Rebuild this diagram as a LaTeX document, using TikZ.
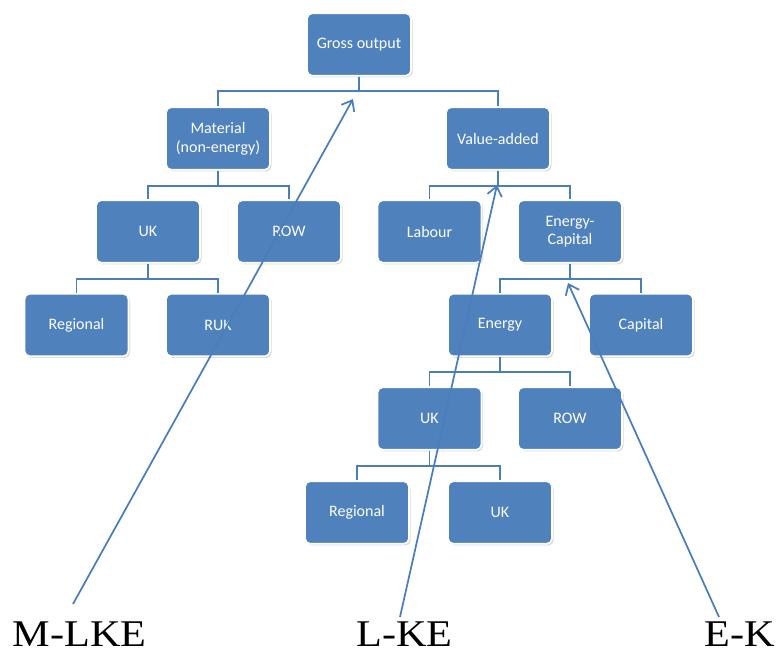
\documentclass[tikz,border=0pt]{standalone}
\usepackage{fontspec}
\setmainfont{Carlito}
\newfontfamily\tagfont{Liberation Serif}
\usetikzlibrary{shadows,arrows.meta}
\definecolor{boxblue}{HTML}{4F81BD}
\definecolor{lineblue}{HTML}{4A7EBB}
\tikzset{
  treebox/.style={rectangle, rounded corners=4pt, fill=boxblue, draw=white,
    line width=1.3pt, minimum width=78pt, minimum height=47pt, inner sep=2pt,
    text=white, align=center, font=\fontsize{12}{14}\selectfont,
    drop shadow={shadow xshift=1.2pt, shadow yshift=-1.2pt, opacity=0.3}},
  branch/.style={draw=lineblue, line width=1.3pt},
  pointer/.style={draw=lineblue, line width=1.3pt,
    -{Straight Barb[length=7pt,width=11pt]}},
  tag/.style={font=\tagfont\fontsize{28.3}{30}\selectfont, inner sep=0pt}
}
\begin{document}
\begin{tikzpicture}[x=0.75pt, y=-0.75pt]
      \useasboundingbox (0,0) rectangle (778,654);
      % tree of boxes
      \node[treebox] (gross) at (359,44.5) {Gross output};
      \node[treebox] (material) at (218,138.5) {Material\\(non-energy)};
      \node[treebox] (valueadded) at (498,138.5) {Value-added};
      \node[treebox] (ukm) at (148,231.5) {UK};
      \node[treebox] (rowm) at (289,231.5) {ROW};
      \node[treebox] (labour) at (429.5,231.5) {Labour};
      \node[treebox] (energycapital) at (570,231.5) {Energy-\\Capital};
      \node[treebox] (regionalm) at (76.5,325) {Regional};
      \node[treebox] (rukm) at (218,325) {RUK};
      \node[treebox] (energy) at (500,325) {Energy};
      \node[treebox] (capital) at (641,325) {Capital};
      \node[treebox] (uke) at (429.5,418.5) {UK};
      \node[treebox] (rowe) at (570,418.5) {ROW};
      \node[treebox] (regionale) at (357,512.5) {Regional};
      \node[treebox] (ukr) at (500,512.5) {UK};
      \begin{scope}[branch]
        \draw (gross.south) -- ++(0,14.5) -| (material.north);
        \draw (gross.south) -- ++(0,14.5) -| (valueadded.north);
        \draw (material.south) -- ++(0,15) -| (ukm.north);
        \draw (material.south) -- ++(0,15) -| (rowm.north);
        \draw (valueadded.south) -- ++(0,15) -| (labour.north);
        \draw (valueadded.south) -- ++(0,15) -| (energycapital.north);
        \draw (ukm.south) -- ++(0,15.5) -| (regionalm.north);
        \draw (ukm.south) -- ++(0,15.5) -| (rukm.north);
        \draw (energycapital.south) -- ++(0,15) -| (energy.north);
        \draw (energycapital.south) -- ++(0,15) -| (capital.north);
        \draw (energy.south) -- ++(0,15) -| (uke.north);
        \draw (energy.south) -- ++(0,15) -| (rowe.north);
        \draw (uke.south) -- ++(0,15.5) -| (regionale.north);
        \draw (uke.south) -- ++(0,15.5) -| (ukr.north);
      \end{scope}
      % nesting labels
      \node[tag] (mlke) at (79.5,634.5) {\scalebox{1.12}[1]{M-LKE}};
      \node[tag] (lke) at (404.5,634.5) {\scalebox{1.12}[1]{L-KE}};
      \node[tag] (ek) at (740,634.5) {\scalebox{1.12}[1]{E-K}};
      \coordinate (mtail) at (73,604);
      \coordinate (ltail) at (400,617);
      \coordinate (etail) at (719,617);
      \coordinate (mtip) at (353,99);
      \coordinate (ltip) at (497,185);
      \coordinate (etip) at (568,283);
      \draw[pointer] (mtail) -- (mtip);
      \draw[pointer] (ltail) -- (ltip);
      \draw[pointer] (etail) -- (etip);
    \end{tikzpicture}
\end{document}
